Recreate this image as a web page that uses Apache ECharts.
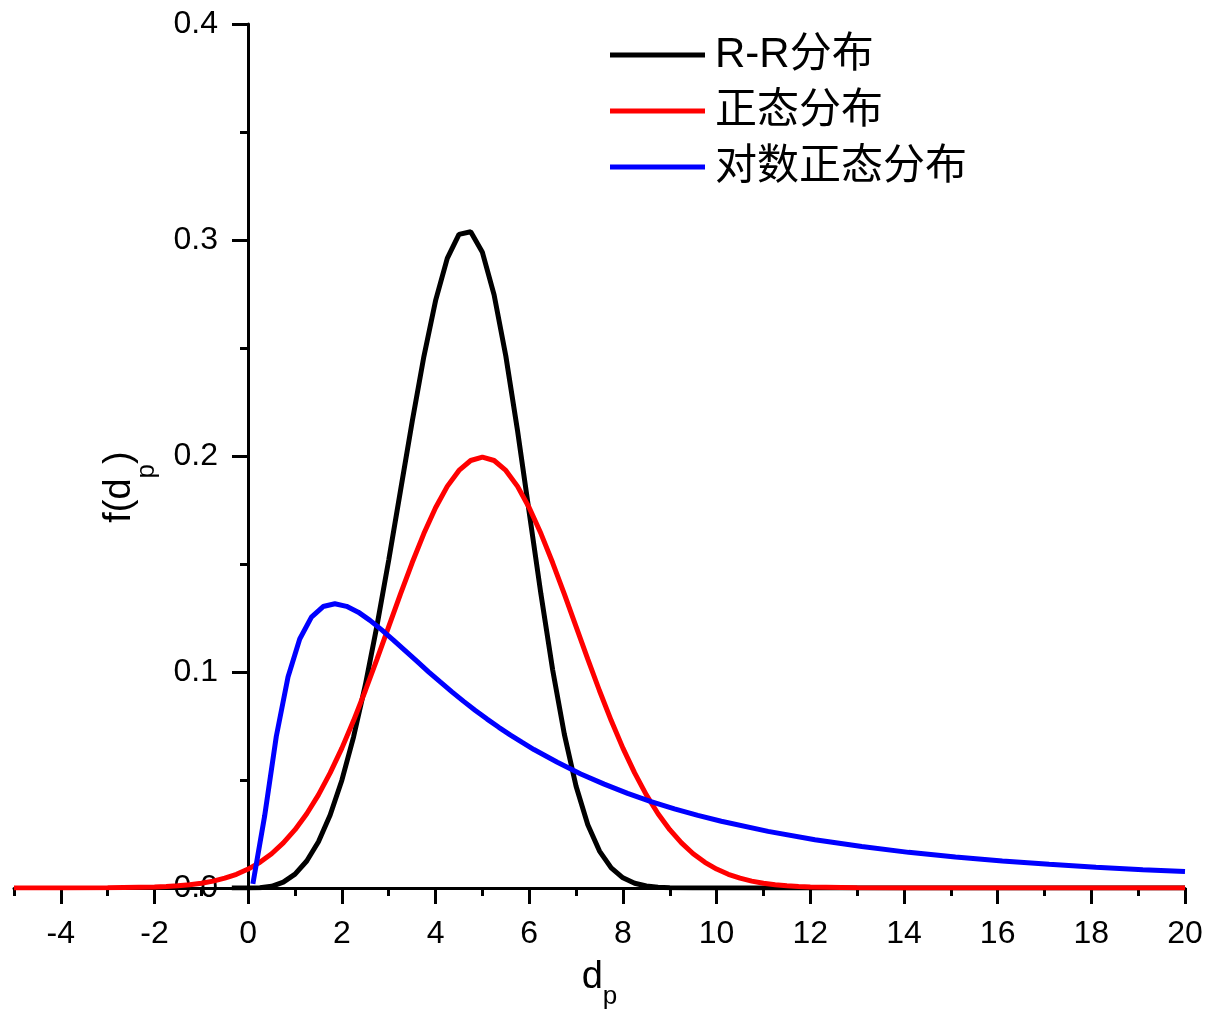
<!DOCTYPE html>
<html>
<head>
<meta charset="utf-8">
<script src="https://cdn.jsdelivr.net/npm/echarts@6/dist/echarts.min.js"></script>
<style>html,body{margin:0;padding:0;background:#fff}#c{width:1211px;height:1016px}</style>
</head>
<body>
<div id="c"></div>
<script>
// ---- data ----
const seriesNames = ['R-R分布', '正态分布', '对数正态分布'];
const seriesColors = ['#000000', '#ff0000', '#0000ff'];

const rrX = [-0.35,0,0.25,0.5,0.75,1,1.25,1.5,1.75,2,2.25,2.5,2.75,3,3.25,3.5,3.75,4,4.25,4.5,4.75,5,5.25,5.5,5.75,6,6.25,6.5,6.75,7,7.25,7.5,7.75,8,8.25,8.5,8.75,9,9.5,10,12,14,16,18,20];
const rrY = [0,0,0.0001,0.0008,0.0027,0.0064,0.0125,0.0214,0.0338,0.0499,0.0700,0.0939,0.1215,0.1518,0.1838,0.2158,0.2460,0.2719,0.2915,0.3026,0.3038,0.2943,0.2746,0.2463,0.2117,0.1738,0.1360,0.1010,0.0711,0.0471,0.0293,0.0171,0.0093,0.0047,0.0022,0.0009,0.0004,0.0001,0,0,0,0,0,0,0];

const normX = [-5,-4,-3,-2,-1.75,-1.5,-1.25,-1,-0.75,-0.5,-0.25,0,0.25,0.5,0.75,1,1.25,1.5,1.75,2,2.25,2.5,2.75,3,3.25,3.5,3.75,4,4.25,4.5,4.75,5,5.25,5.5,5.75,6,6.25,6.5,6.75,7,7.25,7.5,7.75,8,8.25,8.5,8.75,9,9.25,9.5,9.75,10,10.25,10.5,10.75,11,11.25,11.5,11.75,12,13,14,15,16,17,18,19,20];
const normY = [0,0,0.0001,0.00044,0.00067,0.00101,0.00151,0.00222,0.00320,0.00455,0.00636,0.00876,0.01189,0.01587,0.02086,0.02700,0.03439,0.04314,0.05327,0.06476,0.07750,0.09132,0.10594,0.12099,0.13603,0.15057,0.16408,0.17603,0.18593,0.19333,0.19792,0.19947,0.19792,0.19333,0.18593,0.17603,0.16408,0.15057,0.13603,0.12099,0.10594,0.09132,0.07750,0.06476,0.05327,0.04314,0.03439,0.02700,0.02086,0.01587,0.01189,0.00876,0.00636,0.00455,0.00320,0.00222,0.00151,0.00101,0.00067,0.00044,0.00007,0,0,0,0,0,0,0];

const lnX = [0.1,0.35,0.6,0.85,1.1,1.35,1.6,1.85,2.1,2.35,2.6,2.85,3.1,3.35,3.6,3.85,4.1,4.35,4.6,4.85,5.1,5.35,5.6,5.85,6.1,6.6,7.1,7.6,8.1,8.6,9.1,9.6,10.1,11.1,12.1,13.1,14.1,15.1,16.1,17.1,18.1,19.1,20];
const lnY = [0.0019,0.0332,0.0702,0.0977,0.1153,0.1254,0.1303,0.1316,0.1304,0.1277,0.1239,0.1195,0.1148,0.1099,0.1050,0.1001,0.0954,0.0908,0.0864,0.0822,0.0782,0.0744,0.0708,0.0674,0.0641,0.0582,0.0528,0.0481,0.0438,0.0400,0.0366,0.0336,0.0309,0.0262,0.0223,0.0192,0.0165,0.0143,0.0125,0.0110,0.0096,0.0085,0.0076];

const xMajorTicks = [-4,-2,0,2,4,6,8,10,12,14,16,18,20];
const xMinorTicks = [-5,-3,-1,1,3,5,7,9,11,13,15,17,19];

// ---- chart ----
const FONT = '"Liberation Sans", Arial, "Noto Sans CJK SC", sans-serif';
const zip = (xs, ys) => xs.map((x, i) => [x, ys[i]]);
const chart = echarts.init(document.getElementById('c'), null, {renderer: 'canvas'});
const axisLineStyle = {color: '#000', width: 3};

chart.setOption({
  animation: false,
  backgroundColor: '#fff',
  grid: {left: 14, right: 26, top: 24, bottom: 128, containLabel: false, outerBoundsMode: 'none'},
  legend: {
    orient: 'vertical', left: 605, top: 29,
    icon: 'rect', itemWidth: 95, itemHeight: 5, itemGap: 14,
    data: seriesNames,
    textStyle: {fontSize: 42, lineHeight: 42, fontFamily: FONT, color: '#000', padding: [0, 0, 0, 5]}
  },
  xAxis: [{
    type: 'value', min: -5, max: 20, position: 'bottom',
    axisLine: {lineStyle: axisLineStyle},
    axisTick: {customValues: xMajorTicks, length: 16, lineStyle: {color: '#000', width: 3}},
    axisLabel: {customValues: xMajorTicks, margin: 30, fontSize: 32, fontFamily: FONT, color: '#000'},
    splitLine: {show: false},
    name: '{a|d}{b|p}', nameLocation: 'middle', nameGap: 58,
    nameTextStyle: {rich: {
      a: {fontSize: 38, fontFamily: FONT, color: '#000', lineHeight: 64},
      b: {fontSize: 26, fontFamily: FONT, color: '#000', lineHeight: 26, verticalAlign: 'bottom'}
    }}
  }, {
    type: 'value', min: -5, max: 20, position: 'bottom',
    axisLine: {show: false},
    axisTick: {customValues: xMinorTicks, length: 8, lineStyle: {color: '#000', width: 3}},
    axisLabel: {show: false},
    splitLine: {show: false}
  }],
  yAxis: {
    type: 'value', min: 0, max: 0.4, interval: 0.1,
    position: 'left', offset: -234,
    axisLine: {onZero: false, lineStyle: axisLineStyle},
    axisTick: {length: 16, lineStyle: {color: '#000', width: 3}},
    minorTick: {show: true, splitNumber: 2, length: 8, lineStyle: {color: '#000', width: 3}},
    axisLabel: {margin: 30, fontSize: 32, fontFamily: FONT, color: '#000', formatter: v => v.toFixed(1)},
    splitLine: {show: false},
    name: '{a|f(d}{b|p}{a|)}', nameLocation: 'middle', nameRotate: 90, nameGap: 88,
    nameTextStyle: {padding: [0, 62, 0, 0], rich: {
      a: {fontSize: 38, fontFamily: FONT, color: '#000', lineHeight: 80},
      b: {fontSize: 26, fontFamily: FONT, color: '#000', lineHeight: 26, verticalAlign: 'bottom'}
    }}
  },
  series: [
    {name: seriesNames[0], type: 'line', data: zip(rrX, rrY)},
    {name: seriesNames[1], type: 'line', data: zip(normX, normY)},
    {name: seriesNames[2], type: 'line', data: zip(lnX, lnY)}
  ].map((s, i) => Object.assign(s, {
    symbol: 'none', smooth: false, color: seriesColors[i],
    lineStyle: {color: seriesColors[i], width: 5}
  }))
});
</script>
</body>
</html>
